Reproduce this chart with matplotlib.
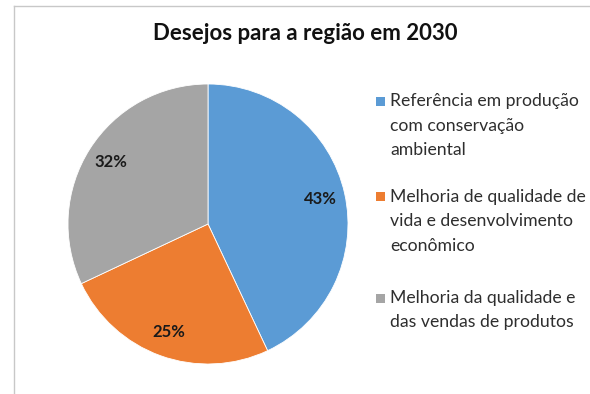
import matplotlib
matplotlib.use("Agg")
import matplotlib.pyplot as plt
from matplotlib.lines import Line2D
from matplotlib.patches import Rectangle

categories = [
    "Referência em produção\ncom conservação\nambiental",
    "Melhoria de qualidade de\nvida e desenvolvimento\neconômico",
    "Melhoria da qualidade e\ndas vendas de produtos",
]
values = [43, 25, 32]
colors = ["#5B9BD5", "#ED7D31", "#A5A5A5"]
title = "Desejos para a região em 2030"

plt.rcParams["font.family"] = ["Lato", "DejaVu Sans"]

W, H = 590, 394
fig = plt.figure(figsize=(W / 100, H / 100), dpi=100)

# pie centred at (208, 224) px with radius 140 px
cx, cy, r = 208, 224, 140
ax = fig.add_axes([(cx - r) / W, 1 - (cy + r) / H, 2 * r / W, 2 * r / H])
wedges, texts, autotexts = ax.pie(
    values,
    colors=colors,
    startangle=90,
    counterclock=False,
    autopct="%d%%",
    pctdistance=0.82,
    wedgeprops=dict(linewidth=0.6, edgecolor="white"),
    textprops=dict(fontsize=12, fontweight="bold", color="#1a1a1a"),
)
ax.set_xlim(-1, 1)
ax.set_ylim(-1, 1)
ax.set_aspect("equal")

fig.text(305 / W, 1 - 33 / H, title, ha="center", va="center",
         fontsize=16, fontweight="bold", color="#111111")

# legend: colour square followed by wrapped label lines
entry_tops = [101, 197, 298]
line_step = 24.5
for label, color, top in zip(categories, colors, entry_tops):
    fig.add_artist(Rectangle((376 / W, 1 - (top + 4.5) / H), 9 / W, 9 / H,
                             transform=fig.transFigure, color=color, lw=0))
    for i, line in enumerate(label.split("\n")):
        fig.text(390 / W, 1 - (top + i * line_step) / H, line,
                 ha="left", va="center", fontsize=12.7, color="#2e2e2e")

# chart frame
fig.add_artist(Line2D([14 / W, 14 / W], [0, 1 - 6 / H],
                      transform=fig.transFigure, color="#C8C8C8", lw=1))
fig.add_artist(Line2D([14 / W, 1], [1 - 6 / H, 1 - 6 / H],
                      transform=fig.transFigure, color="#C8C8C8", lw=1))

fig.savefig("out.png", dpi=100, facecolor="white")
